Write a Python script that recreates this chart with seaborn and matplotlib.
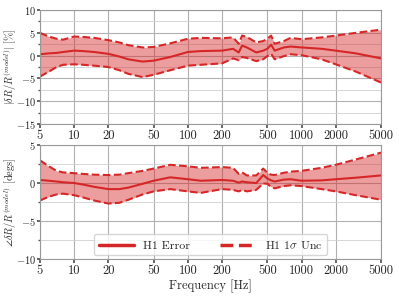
import numpy as np
import pandas as pd
import matplotlib
matplotlib.use('Agg')
import matplotlib.pyplot as plt
import seaborn as sns
from matplotlib.ticker import FixedLocator, FuncFormatter, MultipleLocator, NullLocator

# Frequencias (Hz)
freq = [5, 6, 7, 8, 10, 12, 15, 20, 25, 30, 40, 50, 70, 100, 130, 200, 250, 280, 300, 330,
        400, 460, 500, 540, 580, 700, 800, 1000, 1500, 2000, 3000, 5000]

# Magnitude [%]
mag_err = [0.3, 0.5, 0.6, 0.8, 1.1, 1.0, 0.8, 0.4, -0.2, -0.8, -1.3, -1.1, -0.3, 0.8, 1.0, 1.1,
           1.5, 0.7, 2.2, 1.8, 0.7, 1.1, 1.5, 2.4, 1.1, 1.8, 2.0, 1.8, 1.5, 1.1, 0.5, -0.6]
mag_up = [5.0, 4.2, 3.7, 3.5, 4.2, 4.1, 3.9, 3.4, 2.9, 2.3, 1.8, 1.9, 2.7, 3.7, 3.9, 3.8,
          4.0, 2.6, 4.4, 4.1, 2.9, 3.2, 3.7, 4.4, 2.6, 3.2, 3.9, 3.6, 4.0, 4.4, 5.0, 5.7]
mag_lo = [-4.6, -3.5, -2.5, -2.0, -1.9, -2.0, -2.2, -2.5, -3.2, -4.0, -4.7, -4.2, -3.2, -2.2, -2.0, -1.7,
          -0.6, -1.0, -0.3, -0.5, -1.2, -0.8, -0.1, 0.4, -0.8, -0.1, 0.3, 0.1, -0.8, -1.9, -3.5, -5.9]

# Fase [degs]
pha_err = [0.4, 0.3, 0.2, 0.1, 0.0, -0.2, -0.5, -0.8, -0.8, -0.6, -0.1, 0.3, 0.75, 0.5, 0.3, 0.4,
           0.3, 0.05, 0.2, 0.1, 0.0, 1.05, 0.6, 0.35, 0.2, 0.45, 0.5, 0.3, 0.35, 0.5, 0.7, 1.0]
pha_up = [3.0, 2.2, 1.6, 1.4, 1.3, 1.2, 1.1, 1.05, 1.1, 1.3, 1.6, 1.9, 2.4, 2.2, 2.0, 2.1,
          2.0, 1.2, 1.4, 1.0, 1.0, 1.9, 1.35, 1.1, 1.05, 1.35, 1.5, 1.6, 2.0, 2.4, 3.1, 4.0]
pha_lo = [-2.3, -1.8, -1.5, -1.4, -1.6, -1.9, -2.3, -2.7, -2.6, -2.2, -1.5, -1.1, -0.8, -1.1, -1.3, -0.8,
          -0.9, -1.1, -0.9, -1.1, -0.9, -0.05, -0.1, -0.5, -0.7, -0.4, -0.3, -0.4, -0.8, -1.1, -1.6, -2.2]

xticks = [5, 10, 20, 50, 100, 200, 500, 1000, 2000, 5000]

sns.set_theme(style='whitegrid')
plt.rcParams['font.family'] = 'serif'
plt.rcParams['font.serif'] = ['cmr10', 'DejaVu Serif']
plt.rcParams['mathtext.fontset'] = 'cm'
plt.rcParams['axes.formatter.use_mathtext'] = True
plt.rcParams['axes.unicode_minus'] = False

cor = '#d62728'

fig = plt.figure(figsize=(3.99, 2.96), dpi=100)
ax1 = fig.add_axes([0.100, 0.581, 0.855, 0.385])
ax2 = fig.add_axes([0.100, 0.125, 0.855, 0.385])

df = pd.DataFrame({'f': freq, 'mag': mag_err, 'mag_up': mag_up, 'mag_lo': mag_lo,
                   'pha': pha_err, 'pha_up': pha_up, 'pha_lo': pha_lo})

for ax, col, ylim, ylabel in [(ax1, 'mag', (-15, 10), r'$|\delta R/R^{(model)}|\ [\%]$'),
                              (ax2, 'pha', (-10, 5), r'$\angle\delta R/R^{(model)}$ [degs]')]:
    ax.fill_between(df['f'], df[col + '_lo'], df[col + '_up'], color=cor, alpha=0.45, lw=0)
    sns.lineplot(data=df, x='f', y=col, ax=ax, color=cor, lw=1.5, label='H1 Error')
    sns.lineplot(data=df, x='f', y=col + '_up', ax=ax, color=cor, lw=1.5, ls='--', label=r'H1 $1\sigma$ Unc')
    sns.lineplot(data=df, x='f', y=col + '_lo', ax=ax, color=cor, lw=1.5, ls='--')
    ax.set_xscale('log')
    ax.set_xlim(5, 5000)
    ax.set_ylim(*ylim)
    ax.xaxis.set_major_locator(FixedLocator(xticks))
    ax.xaxis.set_major_formatter(FuncFormatter(lambda v, p: '%d' % v))
    ax.xaxis.set_minor_locator(NullLocator())
    ax.yaxis.set_major_locator(MultipleLocator(5))
    ax.yaxis.set_minor_locator(MultipleLocator(2.5))
    ax.grid(True, which='major', color='#b0b0b0', lw=0.8)
    ax.grid(True, which='minor', axis='y', color='#d0d0d0', lw=0.6)
    ax.tick_params(axis='x', which='major', labelsize=9, pad=1, length=3, bottom=True, color='#555555')
    ax.tick_params(axis='y', which='major', labelsize=7.5, pad=1, length=2, left=True, color='#555555')
    ax.tick_params(axis='y', which='minor', length=1.5, left=True, color='#555555')
    for s in ax.spines.values():
        s.set_color('#999999')
        s.set_linewidth(0.8)
    ax.set_ylabel(ylabel, fontsize=7.5)
    ax.yaxis.set_label_coords(-0.06, 0.5)
    ax.set_xlabel('')

ax1.get_legend().remove()
ax2.set_xlabel('Frequency [Hz]', fontsize=9, labelpad=2)
leg = ax2.legend(loc='lower center', ncol=2, fontsize=8.5, frameon=True, handlelength=3,
                 columnspacing=2.5, borderaxespad=0.3)
for h in leg.get_lines():
    h.set_linewidth(2.5)

fig.savefig('out.png', dpi=100)
